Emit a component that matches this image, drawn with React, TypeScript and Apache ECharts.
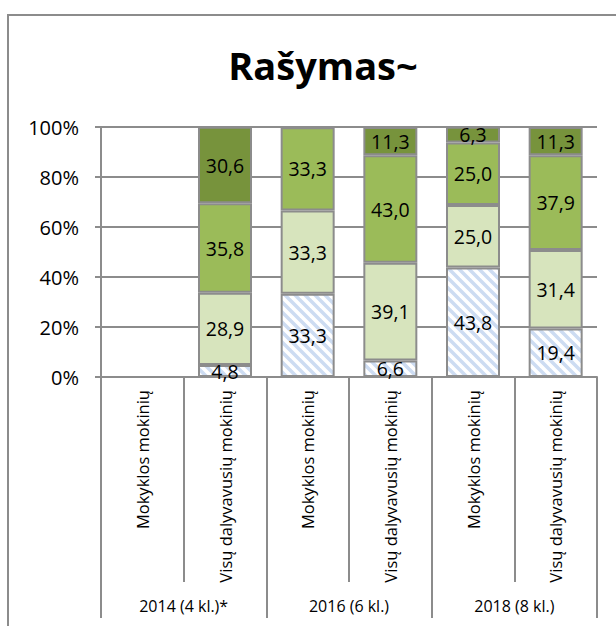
import React, { useEffect, useRef } from "react";
import * as echarts from "echarts";

const TITLE = "Rašymas~";
const categories = [
  "Mokyklos mokinių",
  "Visų dalyvavusių mokinių",
  "Mokyklos mokinių",
  "Visų dalyvavusių mokinių",
  "Mokyklos mokinių",
  "Visų dalyvavusių mokinių",
];
const groups = ["2014 (4 kl.)*", "2016 (6 kl.)", "2018 (8 kl.)"];
const yTicks = [0, 20, 40, 60, 80, 100];

// bottom to top
const level1: (number | null)[] = [null, 4.8, 33.3, 6.6, 43.8, 19.4];
const level2: (number | null)[] = [null, 28.9, 33.3, 39.1, 25.0, 31.4];
const level3: (number | null)[] = [null, 35.8, 33.3, 43.0, 25.0, 37.9];
const level4: (number | null)[] = [null, 30.6, null, 11.3, 6.3, 11.3];

const GREY = "#8c8c8c";
const FONT = "'Open Sans', sans-serif";

function makeHatch(): HTMLCanvasElement {
  const s = 10;
  const c = document.createElement("canvas");
  c.width = s;
  c.height = s;
  const ctx = c.getContext("2d")!;
  ctx.fillStyle = "#ffffff";
  ctx.fillRect(0, 0, s, s);
  ctx.strokeStyle = "#cddcf2";
  ctx.lineWidth = 3.5;
  for (const o of [-s, 0, s]) {
    ctx.beginPath();
    ctx.moveTo(o - 5, -5);
    ctx.lineTo(o + s + 5, s + 5);
    ctx.stroke();
  }
  return c;
}

export default function App() {
  const ref = useRef<HTMLDivElement>(null);
  useEffect(() => {
    if (!ref.current) return;
    const chart = echarts.init(ref.current, null, { renderer: "svg" });
    const label = {
      show: true,
      position: "inside",
      color: "#000",
      fontSize: 19.5,
      fontFamily: FONT,
      formatter: (p: any) =>
        p.value == null ? "" : Number(p.value).toFixed(1).replace(".", ","),
    };
    const base = (name: string, data: (number | null)[], itemStyle: any) => ({
      name,
      type: "bar",
      stack: "all",
      data,
      barWidth: 54,
      label,
      itemStyle: { borderColor: GREY, borderWidth: 2, ...itemStyle },
      emphasis: { disabled: true },
    });
    chart.setOption({
      animation: false,
      title: {
        text: TITLE,
        left: 318,
        top: 41,
        textAlign: "center",
        textStyle: { fontSize: 38, fontWeight: "bold", fontFamily: FONT, color: "#000" },
      },
      graphic: [
        {
          type: "rect",
          shape: { x: 8, y: 15, width: 700, height: 700 },
          style: { fill: "none", stroke: GREY, lineWidth: 2 },
          silent: true,
          z: -10,
        },
      ],
      grid: { left: 101, right: 19, top: 127, bottom: 249, containLabel: false },
      xAxis: [
        {
          type: "category",
          data: categories,
          position: "bottom",
          axisLine: { show: true, lineStyle: { color: GREY, width: 2 } },
          axisTick: { show: true, length: 205, lineStyle: { color: GREY, width: 2 } },
          axisLabel: {
            rotate: 90,
            interval: 0,
            margin: 13,
            color: "#000",
            fontSize: 16.5,
            fontFamily: FONT,
          },
        },
        {
          type: "category",
          data: groups,
          position: "bottom",
          offset: 205,
          axisLine: { show: false },
          axisTick: { show: true, length: 36, lineStyle: { color: GREY, width: 2 } },
          axisLabel: {
            interval: 0,
            margin: 16,
            color: "#000",
            fontSize: 16,
            fontFamily: FONT,
          },
        },
      ],
      yAxis: {
        type: "value",
        min: 0,
        max: 100,
        interval: 20,
        axisLine: { show: true, lineStyle: { color: GREY, width: 2 } },
        axisTick: { show: true, length: 6, lineStyle: { color: GREY, width: 2 } },
        splitLine: { show: true, lineStyle: { color: GREY, width: 2 } },
        axisLabel: {
          formatter: (v: number) => (yTicks.includes(v) ? v + "%" : ""),
          color: "#000",
          fontSize: 20,
          fontFamily: FONT,
          margin: 22,
        },
      },
      series: [
        base("1", level1, {
          color: { image: makeHatch(), repeat: "repeat" },
        }),
        base("2", level2, { color: "#d7e4bd" }),
        base("3", level3, { color: "#9bbb59" }),
        base("4", level4, { color: "#77933c" }),
      ],
    });
    return () => chart.dispose();
  }, []);
  return (
    <div
      ref={ref}
      style={{ position: "absolute", left: 0, top: 0, width: 616, height: 626 }}
    />
  );
}
